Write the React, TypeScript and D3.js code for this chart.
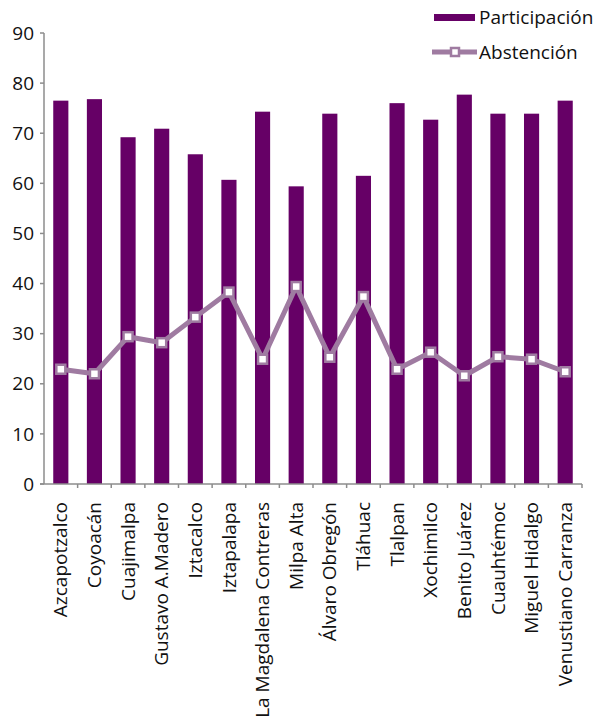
import React from "react";
import * as d3 from "d3";

const categories = [
  "Azcapotzalco", "Coyoacán", "Cuajimalpa", "Gustavo A.Madero", "Iztacalco", "Iztapalapa",
  "La Magdalena Contreras", "Milpa Alta", "Álvaro Obregón", "Tláhuac", "Tlalpan", "Xochimilco",
  "Benito Juárez", "Cuauhtémoc", "Miguel Hidalgo", "Venustiano Carranza",
];
const participacion = [76.5, 76.8, 69.2, 70.9, 65.8, 60.7, 74.3, 59.4, 73.9, 61.5, 76.0, 72.7, 77.7, 73.9, 73.9, 76.5];
const abstencion = [22.9, 22.0, 29.4, 28.2, 33.3, 38.3, 24.9, 39.4, 25.3, 37.4, 22.9, 26.3, 21.6, 25.4, 24.9, 22.4];
const yTicks = [0, 10, 20, 30, 40, 50, 60, 70, 80, 90];
const seriesNames = ["Participación", "Abstención"];

const BAR = "#660066";
const LINE = "#9f7ba1";
const AXIS = "#8c8c8c";
const TEXT = "#111";
const FONT = "'Open Sans', 'Noto Sans', sans-serif";
const FS = 19;
const LFS = 19;

export default function App() {
  const W = 595, H = 727;
  const left = 44, right = 582, top = 33, bottom = 484;
  const x = d3.scaleBand<string>().domain(categories).range([left, right]).paddingInner(0.55).paddingOuter(0.275);
  const xb = d3.scaleBand<string>().domain(categories).range([left, right]);
  const y = d3.scaleLinear().domain([0, 90]).range([bottom, top]);
  const line = d3.line<number>().x((_, i) => (xb(categories[i]) as number) + xb.bandwidth() / 2).y((d) => y(d));
  const ms = 9;

  return (
    <svg width={W} height={H} style={{ position: "absolute", left: 0, top: 0 }} fontFamily={FONT}>
      {participacion.map((v, i) => (
        <rect key={i} x={x(categories[i])} y={y(v)} width={x.bandwidth()} height={y(0) - y(v)} fill={BAR} />
      ))}
      <line x1={left} x2={left} y1={top} y2={bottom} stroke={AXIS} strokeWidth={1.5} />
      {yTicks.map((t) => (
        <g key={t}>
          <line x1={left - 4} x2={left} y1={y(t)} y2={y(t)} stroke={AXIS} strokeWidth={1.5} />
          <text x={left - 10} y={y(t)} dy="0.35em" textAnchor="end" fontSize={FS} fill={TEXT}>{t}</text>
        </g>
      ))}
      <line x1={left - 4} x2={right} y1={bottom} y2={bottom} stroke={AXIS} strokeWidth={1.5} />
      {categories.map((c, i) => (
        <line key={"t" + i} x1={(xb(c) as number) + xb.bandwidth()} x2={(xb(c) as number) + xb.bandwidth()} y1={bottom} y2={bottom + 4} stroke={AXIS} strokeWidth={1.5} />
      ))}
      {categories.map((c) => {
        const cx = (xb(c) as number) + xb.bandwidth() / 2;
        return (
          <text key={c} transform={`translate(${cx},${bottom + 18}) rotate(-90)`} dy="0.35em" textAnchor="end" fontSize={FS} fill={TEXT}>{c}</text>
        );
      })}
      <path d={line(abstencion) as string} fill="none" stroke={LINE} strokeWidth={5} strokeLinejoin="round" />
      {abstencion.map((v, i) => {
        const cx = (xb(categories[i]) as number) + xb.bandwidth() / 2;
        return <rect key={"m" + i} x={cx - ms / 2} y={y(v) - ms / 2} width={ms} height={ms} fill="#fff" stroke={LINE} strokeWidth={2.5} />;
      })}
      <rect x={434} y={14} width={41} height={7} fill={BAR} />
      <text x={479} y={17} dy="0.35em" fontSize={LFS} fill={TEXT}>{seriesNames[0]}</text>
      <line x1={432} x2={477} y1={52} y2={52} stroke={LINE} strokeWidth={5} />
      <rect x={455 - 4} y={52 - 4} width={8} height={8} fill="#fff" stroke={LINE} strokeWidth={2.5} />
      <text x={479} y={52.5} dy="0.35em" fontSize={LFS} fill={TEXT}>{seriesNames[1]}</text>
    </svg>
  );
}
